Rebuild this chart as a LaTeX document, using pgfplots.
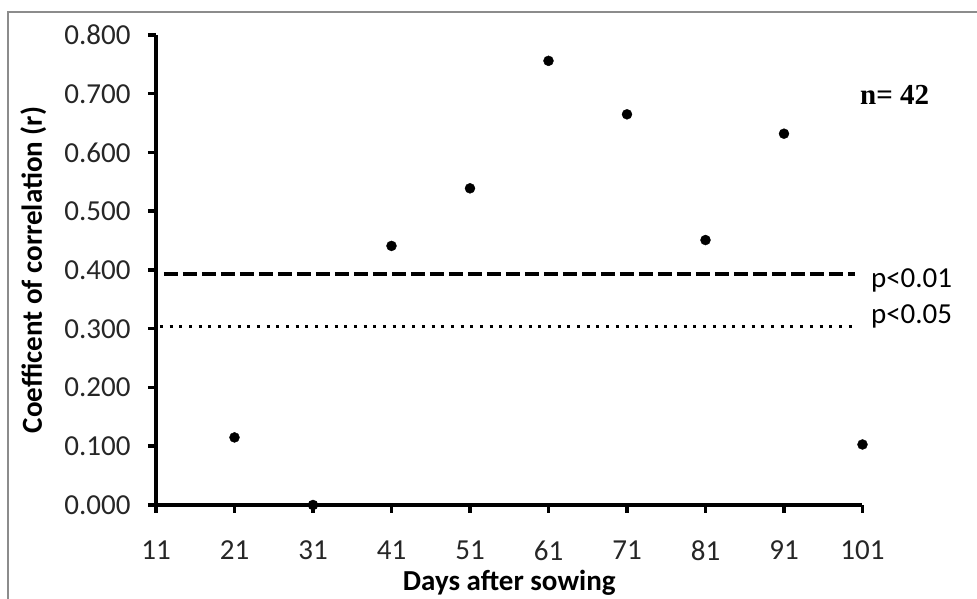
\documentclass[border=0pt]{standalone}
\usepackage{pgfplots}
\pgfplotsset{compat=1.18}
\usepackage{fontspec}
\setmainfont{Carlito}
\newfontfamily\timesf{Liberation Serif}
\pgfplotstableread{
x y
21 0.115
31 0.000
41 0.441
51 0.539
61 0.756
71 0.665
81 0.451
91 0.632
101 0.103
}\corr
\begin{document}
\begin{tikzpicture}
\useasboundingbox (0pt,0pt) rectangle (977pt,599pt);
\draw[color=black!45, line width=1.5pt] (8pt,-20pt) -- (8pt,587pt) -- (1000pt,587pt);
\begin{axis}[
  at={(156pt,94pt)}, anchor=south west,
  scale only axis, width=706.5pt, height=470pt,
  xmin=11, xmax=101, ymin=0, ymax=0.8,
  clip=false,
  axis lines=left,
  axis line style={-, line width=3.5pt, black},
  xtick={11,21,31,41,51,61,71,81,91,101},
  ytick={0,0.1,0.2,0.3,0.4,0.5,0.6,0.7,0.8},
  tick align=outside,
  major tick length=8pt,
  tick style={line width=3.5pt, black},
  /pgf/number format/assume math mode=true,
  yticklabel style={/pgf/number format/fixed, /pgf/number format/fixed zerofill, /pgf/number format/precision=3, xshift=-14pt},
  ticklabel style={font=\fontsize{29}{34}\selectfont, text=black!85},
  xticklabel style={yshift=-24pt},
  label style={font=\bfseries\fontsize{29}{34}\selectfont},
  xlabel={Days after sowing},
  ylabel={Coefficent of correlation (r)},
  xlabel style={at={(axis description cs:0.5,0)}, anchor=base, yshift=-86pt},
  ylabel style={at={(axis description cs:-0.1614,0.5)}, anchor=base},
]
\addplot[only marks, mark=*, mark size=5pt, mark options={fill=black, draw=black}] table[x=x, y=y] {\corr};
\addplot[line width=4pt, dash pattern=on 14pt off 5pt, black] coordinates {(12,0.393) (100,0.393)};
\addplot[line width=3pt, dash pattern=on 3pt off 6.7pt, black] coordinates {(11.5,0.304) (100,0.304)};
\node[anchor=west, xshift=5pt, font=\fontsize{29}{34}\selectfont] at (axis cs:101,0.382) {p<0.01};
\node[anchor=west, xshift=5pt, font=\fontsize{29}{34}\selectfont] at (axis cs:101,0.321) {p<0.05};
\node[font=\timesf\bfseries\fontsize{29}{34}\selectfont] at (axis cs:105.1,0.698) {n= 42};
\end{axis}
\end{tikzpicture}
\end{document}
